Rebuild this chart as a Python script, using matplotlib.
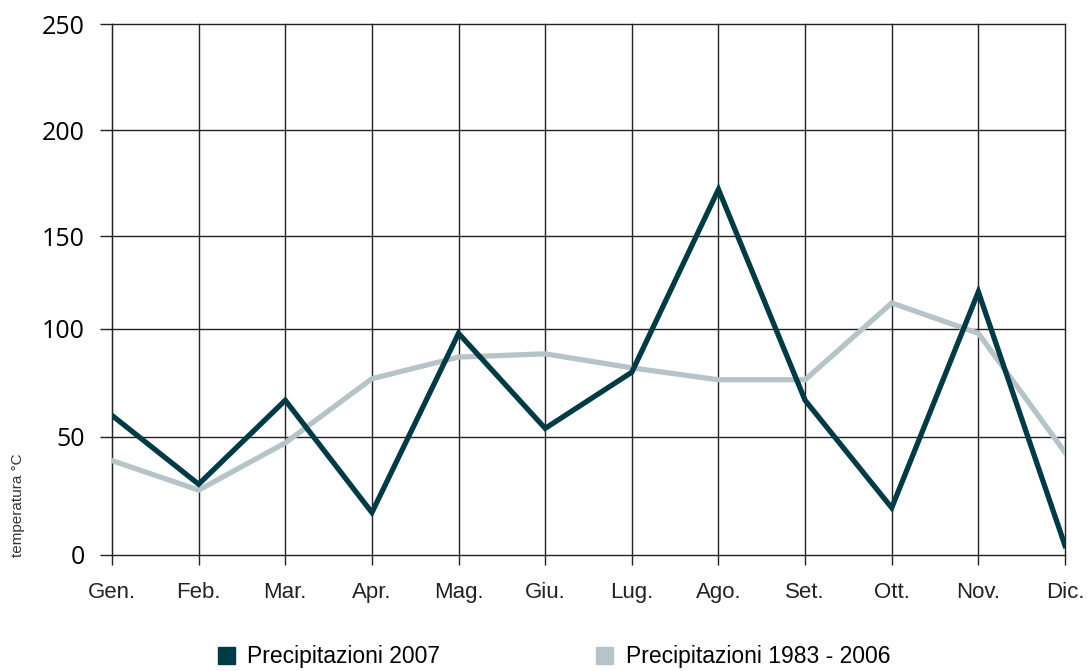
import numpy as np
from matplotlib import pyplot as plt
from matplotlib.patches import Patch

months = ["Gen.", "Feb.", "Mar.", "Apr.", "Mag.", "Giu.",
          "Lug.", "Ago.", "Set.", "Ott.", "Nov.", "Dic."]
prec_2007 = [60, 30, 67, 18, 98, 54, 80, 172, 67, 20, 120, 4]
prec_1983_2006 = [40, 27.5, 47.5, 77, 87, 88.5, 82, 76.5, 76.5, 114, 98, 43.5]
y_ticks = [0, 50, 100, 150, 200, 250]
# the original axis is not evenly spaced: pixel height of each tick above 0
y_tick_pos = [0, 118, 226, 319, 425, 531]

dark = "#003a45"
grey = "#b6c4c8"


def forward(v):
    return np.interp(v, y_ticks, y_tick_pos)


def inverse(p):
    return np.interp(p, y_tick_pos, y_ticks)


fig = plt.figure(figsize=(10.9, 6.71), dpi=100)
ax = fig.add_axes([112 / 1090, 1 - 555 / 671, (1065 - 112) / 1090, (555 - 24) / 671])
ax.set_yscale("function", functions=(forward, inverse))

x = np.arange(len(months))
ax.plot(x, prec_1983_2006, color=grey, lw=3.8, solid_joinstyle="miter", zorder=3)
ax.plot(x, prec_2007, color=dark, lw=3.8, solid_joinstyle="miter", zorder=4)

ax.set_xlim(0, len(months) - 1)
ax.set_ylim(0, 250)
ax.set_xticks(x)
ax.set_xticklabels(months, fontsize=16, family="Liberation Sans", color="#222222")
ax.set_yticks(y_ticks)
ax.set_yticklabels([str(t) for t in y_ticks], fontsize=18, family="Open Sans")

ax.grid(True, color="#222222", lw=1)
for gl in ax.get_xgridlines() + ax.get_ygridlines():
    gl.set_clip_on(False)
ax.tick_params(axis="y", length=8.6, width=1, pad=11, color="#222222")
ax.tick_params(axis="x", length=7.2, width=1, pad=12, color="#222222")
for s in ["top", "right", "bottom"]:
    ax.spines[s].set_visible(False)
ax.spines["left"].set_color("#222222")

fig.text(18 / 1090, 1 - 505 / 671, "temperatura °C", rotation=90, fontsize=11,
         family="Liberation Sans", color="#333333", ha="center", va="center")

handles = [Patch(color=dark), Patch(color=grey)]
fig.legend(handles, ["Precipitazioni 2007", "Precipitazioni 1983 - 2006"],
           loc="center left", bbox_to_anchor=(197 / 1090, 1 - 657 / 671),
           ncol=2, frameon=False, handlelength=0.75, handleheight=0.75,
           handletextpad=0.55, columnspacing=6.8,
           prop={"family": "Liberation Sans", "size": 16.5})

fig.savefig("out.png", dpi=100)
